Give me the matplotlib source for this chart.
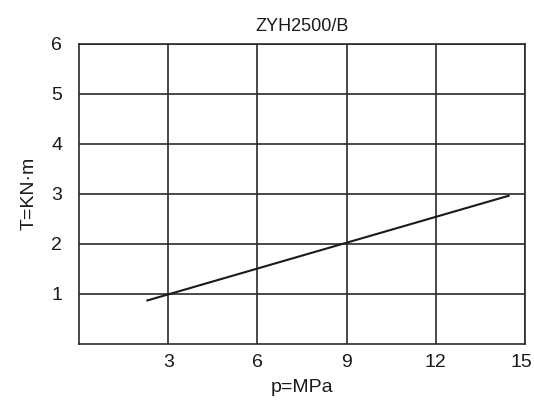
import matplotlib.pyplot as plt
import matplotlib.transforms as mtransforms

plt.rcParams['font.family'] = ['Liberation Sans', 'DejaVu Sans']

p = [2.3, 14.45]
T = [0.87, 2.96]
xticks = [3, 6, 9, 12, 15]
yticks = [1, 2, 3, 4, 5, 6]

fig = plt.figure(figsize=(5.34, 4.0), dpi=100)
ax = fig.add_axes([79 / 534, 1 - 344 / 400, (525 - 79) / 534, (344 - 43.5) / 400])

ax.plot(p, T, color='#1a1a1a', lw=1.5)

ax.set_xlim(0, 15)
ax.set_ylim(0, 6)
ax.set_xticks(xticks)
ax.set_yticks(yticks)
ax.grid(True, color='#2a2a2a', lw=1.2)
for s in ax.spines.values():
    s.set_color('#2a2a2a')
    s.set_linewidth(1.2)
ax.tick_params(length=0, labelsize=14, pad=7, colors='#1a1a1a')
ax.tick_params(axis='y', pad=12)

# "15" sits right at the edge, nudge it in a bit so it isn't clipped
last = ax.get_xticklabels()[-1]
last.set_transform(last.get_transform() + mtransforms.ScaledTranslation(-4 / 100, 0, fig.dpi_scale_trans))

ax.set_title('ZYH2500/B', fontsize=13, color='#1a1a1a', pad=9)
ax.set_xlabel('p=MPa', fontsize=14, color='#1a1a1a', labelpad=6)
ax.set_ylabel('T=KN·m', fontsize=14, color='#1a1a1a', labelpad=10)

fig.savefig('out.png', dpi=100)
